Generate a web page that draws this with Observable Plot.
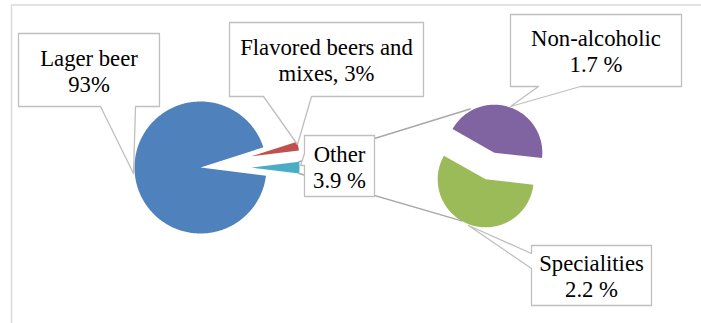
<!DOCTYPE html>
<html><head><meta charset="utf-8">
<script src="https://cdn.jsdelivr.net/npm/d3@7"></script>
<script src="https://cdn.jsdelivr.net/npm/@observablehq/plot@0.6"></script>
<style>body{margin:0;background:#fff} svg text{font-family:"Liberation Serif","Times New Roman",serif !important;}</style>
</head><body><div id="chart"></div>
<script>
// ---- data ----
const mainCategories = ["Lager beer", "Flavored beers and mixes", "Other"];
const mainValues = [93, 3, 3.9];
const subCategories = ["Non-alcoholic", "Specialities"];
const subValues = [1.7, 2.2];
const labelTexts = ["Lager beer\n93%", "Flavored beers and\nmixes, 3%", "Other\n3.9 %", "Non-alcoholic\n1.7 %", "Specialities\n2.2 %"];
const mainColors = ["#4f81bd", "#c0504d", "#4bacc6"];
const subColors = ["#8064a2", "#9bbb59"];

// ---- layout ----
const deg = Math.PI / 180;
const W = 701, H = 323;
const mainLayout = {cx: 200, cy: 167, start: 97.1 * deg, radius: [66, 48, 48], explode: [0, 52, 51]};
const subLayout = {cx: 489.5, cy: 165.5, start: 299.5 * deg, radius: 48, explode: 14};

function slicePoly(cx, cy, r, a0, a1, off, key) {
  const mid = (a0 + a1) / 2;
  const ox = cx + off * Math.sin(mid), oy = cy - off * Math.cos(mid);
  const pts = [{key, x: ox, y: oy}];
  const n = Math.max(2, Math.ceil((a1 - a0) / deg));
  for (let i = 0; i <= n; i++) {
    const a = a0 + (a1 - a0) * i / n;
    pts.push({key, x: ox + r * Math.sin(a), y: oy - r * Math.cos(a)});
  }
  return {pts, ox, oy, r, a0, a1};
}

const mainArcs = d3.pie().sort(null).startAngle(mainLayout.start).endAngle(mainLayout.start + 2 * Math.PI)(mainValues);
const mainSlices = mainArcs.map((a, i) => slicePoly(mainLayout.cx, mainLayout.cy, mainLayout.radius[i], a.startAngle, a.endAngle, mainLayout.explode[i], mainCategories[i]));
const subArcs = d3.pie().sort(null).startAngle(subLayout.start).endAngle(subLayout.start + 2 * Math.PI)(subValues);
const subSlices = subArcs.map((a, i) => slicePoly(subLayout.cx, subLayout.cy, subLayout.radius, a.startAngle, a.endAngle, subLayout.explode, subCategories[i]));

// series lines: from "Other" slice outer corners to the second pie
const other = mainSlices[2];
const pt = (s, a, r) => ({x: s.ox + r * Math.sin(a), y: s.oy - r * Math.cos(a)});
const seriesLines = [
  [pt(other, other.a0, other.r), pt(subSlices[0], (241 + 90) * deg, 50)],
  [pt(other, other.a1, other.r), pt(subSlices[1], (120 + 90) * deg, 48)]
];

// callouts: box [x0,y0,x1,y1], pointer side, pointer base, tip
const callouts = [
  {box: [18, 33, 159, 106], side: "bottom", base: [100, 135], tip: [133, 173]},
  {box: [229, 22, 423, 96], side: "bottom", base: [263, 311], tip: [297, 144]},
  {box: [304, 135, 374, 196], side: "left", base: [153, 165], tip: [300, 165]},
  {box: [510, 14, 681, 86], side: "bottom", base: [538, 580], tip: [510, 106]},
  {box: [531, 245, 651, 305], side: "left", base: [253, 268], tip: [468, 225]}
];
function calloutPath(c) {
  const [x0, y0, x1, y1] = c.box;
  const p = [[x0, y0], [x1, y0], [x1, y1]];
  if (c.side === "bottom") p.push([c.base[1], y1], c.tip, [c.base[0], y1]);
  p.push([x0, y1]);
  if (c.side === "left") p.push([x0, c.base[1]], c.tip, [x0, c.base[0]]);
  return p.map(([x, y]) => ({x, y}));
}

const marks = [];
marks.push(Plot.line([{x: 11, y: 340}, {x: 11, y: 4.5}, {x: 720, y: 4.5}], {x: "x", y: "y", stroke: "#d9d9d9", strokeWidth: 1.5}));
mainSlices.forEach((s, i) => marks.push(Plot.line(s.pts, {x: "x", y: "y", fill: mainColors[i], stroke: "none", curve: "linear-closed"})));
subSlices.forEach((s, i) => marks.push(Plot.line(s.pts, {x: "x", y: "y", fill: subColors[i], stroke: "none", curve: "linear-closed"})));
seriesLines.forEach(l => marks.push(Plot.line(l, {x: "x", y: "y", stroke: "#a8a8a8", strokeWidth: 1.5})));
callouts.forEach((c, i) => {
  marks.push(Plot.line(calloutPath(c), {x: "x", y: "y", fill: "white", stroke: "#bfbfbf", strokeWidth: 1.3, curve: "linear-closed"}));
  marks.push(Plot.text([labelTexts[i]], {
    x: (c.box[0] + c.box[2]) / 2, y: (c.box[1] + c.box[3]) / 2 + 0.5,
    text: d => d, fontSize: 22.7, fontFamily: "Liberation Serif", lineHeight: 1.13, fill: "#000"
  }));
});

const chart = Plot.plot({
  width: W, height: H, margin: 0,
  x: {type: "identity", axis: null},
  y: {type: "identity", axis: null},
  style: {background: "#fff", overflow: "hidden", fontFamily: "Liberation Serif, serif"},
  marks
});
document.getElementById("chart").appendChild(chart);
</script>
</body></html>
